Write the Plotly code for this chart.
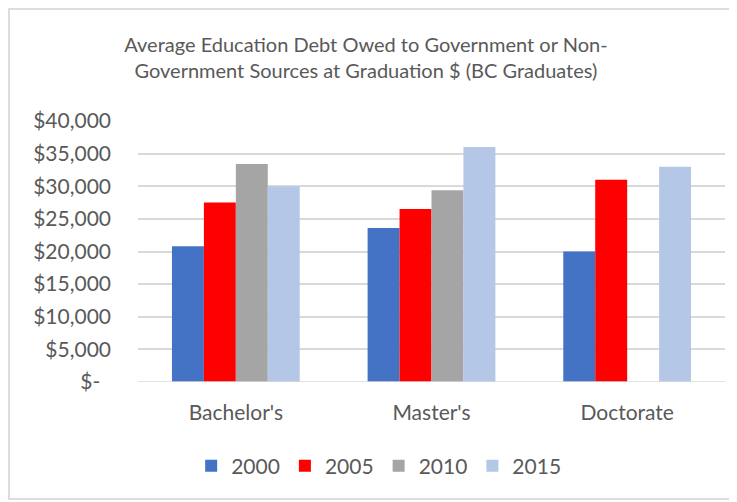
import plotly.graph_objects as go

categories = ["Bachelor's", "Master's", "Doctorate"]
years = ["2000", "2005", "2010", "2015"]
debt_2000 = [20800, 23600, 20000]
debt_2005 = [27500, 26500, 31000]
debt_2010 = [33400, 29400, None]
debt_2015 = [30000, 36000, 33000]
series = [debt_2000, debt_2005, debt_2010, debt_2015]
colors = ["#4472C4", "#FF0000", "#A5A5A5", "#B4C7E7"]
tick_vals = [0, 5000, 10000, 15000, 20000, 25000, 30000, 35000, 40000]
tick_text = ["$-\u00a0\u00a0", "$5,000", "$10,000", "$15,000", "$20,000", "$25,000", "$30,000", "$35,000", "$40,000"]

FONT = "Lato"
GREY = "#595959"
FS = 21

fig = go.Figure()
for name, vals, c in zip(years, series, colors):
    fig.add_trace(go.Bar(name=name, x=categories, y=vals, marker=dict(color=c, line=dict(width=0))))

fig.update_layout(
    width=729, height=494,
    barmode="group", bargap=0.347, bargroupgap=0,
    paper_bgcolor="white", plot_bgcolor="white",
    margin=dict(l=130, r=12, t=113, b=120),
    font=dict(family=FONT, color=GREY, size=FS),
    title=dict(
        text="Average Education Debt Owed to Government or Non-<br>Government Sources at Graduation $ (BC Graduates)",
        x=0.491, xanchor="center", y=0.910, yanchor="middle",
        font=dict(family=FONT, size=20, color=GREY),
    ),
    xaxis=dict(showline=False, ticks="", ticklabelstandoff=16, tickfont=dict(size=FS, color=GREY)),
    yaxis=dict(range=[0, 40000], tickvals=tick_vals, ticktext=tick_text,
               showgrid=True, gridcolor="#D9D9D9", gridwidth=1.5, zeroline=False,
               showline=False, ticks="", ticklabelstandoff=26,
               tickfont=dict(size=FS, color=GREY)),
    legend=dict(orientation="h", x=0.41, xanchor="center", y=-0.322, yanchor="middle",
                font=dict(size=FS, color=GREY), itemwidth=30, traceorder="normal"),
    shapes=[dict(type="rect", xref="paper", yref="paper", x0=-0.2198, x1=1.05, y0=-0.448, y1=1.429,
                 line=dict(color="#DDDDDD", width=2), fillcolor="rgba(0,0,0,0)")],
)
fig.add_shape(type="line", xref="paper", yref="y", x0=0, x1=1, y0=0, y1=0, line=dict(color="#D9D9D9", width=1.5))

fig.write_html("out.html")
